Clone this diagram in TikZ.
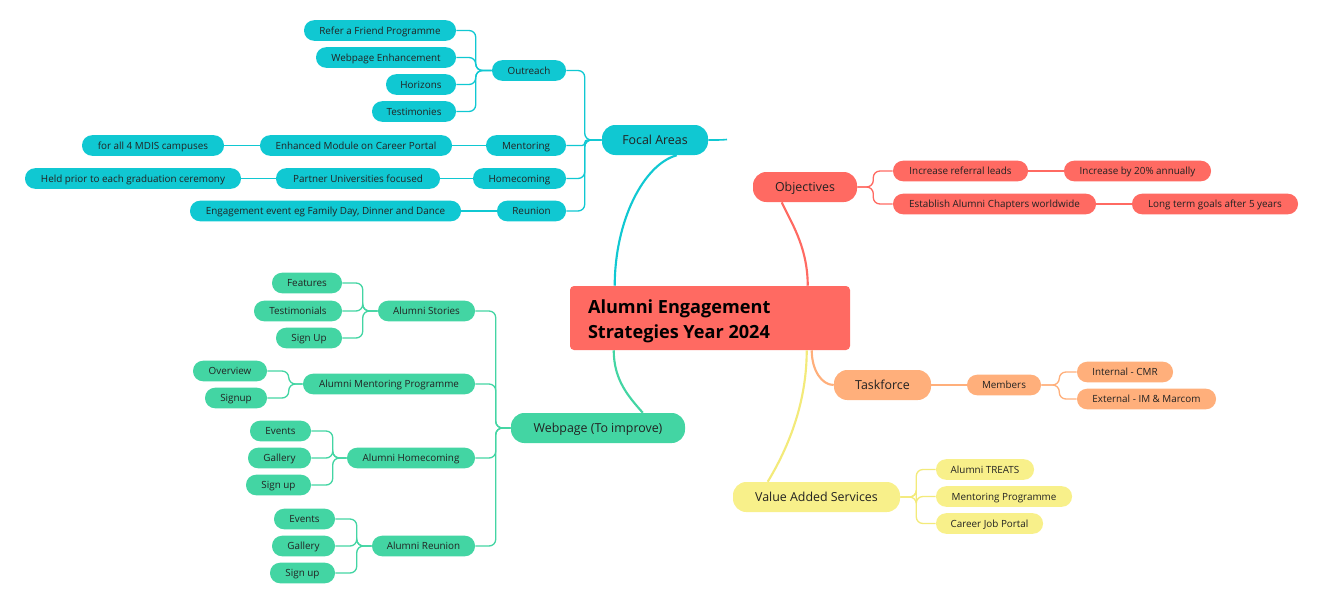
\documentclass[tikz,border=0pt]{standalone}
\usepackage{fontspec}
\setmainfont{Open Sans}
\usetikzlibrary{calc}
\definecolor{inkc}{HTML}{222222}
\definecolor{cyanC}{HTML}{10C8D2}
\definecolor{redC}{HTML}{FF6A62}
\definecolor{oraC}{HTML}{FFAF7B}
\definecolor{yelC}{HTML}{F8F08A}
\definecolor{yelL}{HTML}{F3EA7A}
\definecolor{grnC}{HTML}{43D5A3}
\tikzset{
  topic/.style={fill=#1, text=inkc, rounded corners=10pt, minimum height=22.5pt,
    inner sep=0pt, text height=6.6pt, text depth=0pt,
    font=\fontsize{9.3}{11}\selectfont},
  leaf/.style={fill=#1, text=inkc, rounded corners=7.5pt, minimum height=15.4pt,
    inner sep=0pt, text height=5.3pt, text depth=0pt,
    font=\fontsize{7.4}{8.8}\selectfont},
  wd/.style={minimum width=#1*0.75pt},
  link/.style={draw=#1, line width=1pt, rounded corners=5pt},
  branch/.style={draw=#1, line width=1.6pt},
}
\begin{document}
\begin{tikzpicture}[x=0.75pt,y=-0.75pt]
\useasboundingbox (0,0) rectangle (1336,612);

% central topic
\node[fill=redC, rounded corners=3pt, minimum width=210pt, minimum height=48pt,
  inner sep=0pt] (root) at (710,318) {};
\node[anchor=west, text=black, inner sep=0pt, align=left,
  font=\fontsize{13.6}{18.8}\selectfont\bfseries] (roottext) at ($(root.west)+(18,3)$)
  {Alumni Engagement\\Strategies Year 2024};

% ---- Focal Areas ----
\node[topic=cyanC, wd=106] (focal) at (655,140) {Focal Areas};
\node[leaf=cyanC, wd=74] (outreach) at (529,70.5) {Outreach};
\node[leaf=cyanC, wd=80] (mentoring) at (526,145.5) {Mentoring};
\node[leaf=cyanC, wd=93] (homecoming) at (519.5,178.5) {Homecoming};
\node[leaf=cyanC, wd=69] (reunion) at (531.5,211) {Reunion};
\node[leaf=cyanC, wd=152] (refer) at (380,30.5) {Refer a Friend Programme};
\node[leaf=cyanC, wd=140] (webenh) at (386,57.5) {Webpage Enhancement};
\node[leaf=cyanC, wd=70] (horizons) at (421,84.5) {Horizons};
\node[leaf=cyanC, wd=84] (testimonies) at (414,111.5) {Testimonies};
\node[leaf=cyanC, wd=192] (enhanced) at (356,145.5) {Enhanced Module on Career Portal};
\node[leaf=cyanC, wd=142] (mdis) at (153,145.5) {for all 4 MDIS campuses};
\node[leaf=cyanC, wd=164] (partner) at (358,178.5) {Partner Universities focused};
\node[leaf=cyanC, wd=216] (heldprior) at (133,178.5) {Held prior to each graduation ceremony};
\node[leaf=cyanC, wd=271] (engage) at (325.5,211) {Engagement event eg Family Day, Dinner and Dance};
\coordinate (stub) at (727,139.5);

% ---- Objectives ----
\node[topic=redC, wd=104] (objectives) at (805,187) {Objectives};
\node[leaf=redC, wd=135] (leads) at (960.5,171) {Increase referral leads};
\node[leaf=redC, wd=203] (chapters) at (994.5,204) {Establish Alumni Chapters worldwide};
\node[leaf=redC, wd=147] (pct) at (1137.5,171) {Increase by 20\% annually};
\node[leaf=redC, wd=166] (longterm) at (1215,204) {Long term goals after 5 years};

% ---- Taskforce ----
\node[topic=oraC, wd=97] (taskforce) at (882.5,385) {Taskforce};
\node[leaf=oraC, wd=74] (members) at (1004,385) {Members};
\node[leaf=oraC, wd=96] (internal) at (1125,372) {Internal - CMR};
\node[leaf=oraC, wd=139] (external) at (1146.5,399) {External - IM \& Marcom};

% ---- Value Added Services ----
\node[topic=yelC, wd=167] (vas) at (816.5,497) {Value Added Services};
\node[leaf=yelC, wd=98] (treats) at (985,469.5) {Alumni TREATS};
\node[leaf=yelC, wd=136] (mentprog) at (1004,496.5) {Mentoring Programme};
\node[leaf=yelC, wd=107] (jobportal) at (989.5,523.5) {Career Job Portal};

% ---- Webpage ----
\node[topic=grnC, wd=174] (webpage) at (598,428) {Webpage (To improve)};
\node[leaf=grnC, wd=97] (stories) at (426.5,311) {Alumni Stories};
\node[leaf=grnC, wd=172] (amp) at (389,384) {Alumni Mentoring Programme};
\node[leaf=grnC, wd=128] (ahome) at (411,458) {Alumni Homecoming};
\node[leaf=grnC, wd=103] (areunion) at (423.5,546) {Alumni Reunion};
\node[leaf=grnC, wd=70] (features) at (307,283) {Features};
\node[leaf=grnC, wd=88] (testimonials) at (298,311) {Testimonials};
\node[leaf=grnC, wd=66] (signupA) at (309,338) {Sign Up};
\node[leaf=grnC, wd=74] (overview) at (230,371) {Overview};
\node[leaf=grnC, wd=62] (signupB) at (236,398) {Signup};
\node[leaf=grnC, wd=61] (eventsH) at (280.5,431) {Events};
\node[leaf=grnC, wd=63] (galleryH) at (279.5,458) {Gallery};
\node[leaf=grnC, wd=65] (signupH) at (278.5,485) {Sign up};
\node[leaf=grnC, wd=61] (eventsR) at (304.5,519) {Events};
\node[leaf=grnC, wd=63] (galleryR) at (303.5,546) {Gallery};
\node[leaf=grnC, wd=65] (signupR) at (302.5,573) {Sign up};

% ---- main branches from the central topic ----
\draw[branch=cyanC] ($(root.north west)+(45,0)$) .. controls +(0,-65) and +(-33,9) .. ($(focal.south west)+(75,0)$);
\draw[branch=cyanC, line width=1.2pt] (focal.east) to[out=0,in=185] (stub);
\draw[branch=redC] ($(root.north west)+(238,0)$) .. controls +(0,-40) and +(8,18) .. ($(objectives.south west)+(29,0)$);
\draw[branch=oraC] ($(root.south west)+(242,0)$) .. controls +(0,20) and +(-12,0) .. (taskforce.west);
\draw[branch=yelL] ($(root.south west)+(237,0)$) .. controls +(0,60) and +(15,-25) .. ($(vas.north west)+(35,0)$);
\draw[branch=grnC] ($(root.south west)+(44,0)$) .. controls +(0,30) and +(-14,-16) .. ($(webpage.north west)+(132,0)$);

% ---- Focal Areas connectors ----
\draw[link=cyanC] (focal.west) -- ++(-17,0) |- (outreach.east);
\draw[link=cyanC, rounded corners=2pt] (focal.west) -- ++(-17,0) |- (mentoring.east);
\draw[link=cyanC] (focal.west) -- ++(-17,0) |- (homecoming.east);
\draw[link=cyanC] (focal.west) -- ++(-17,0) |- (reunion.east);
\foreach \c in {refer,webenh,horizons,testimonies}
  \draw[link=cyanC] (outreach.west) -- ++(-16,0) |- (\c.east);
\draw[link=cyanC] (mentoring.west) -- (enhanced.east);
\draw[link=cyanC] (enhanced.west) -- (mdis.east);
\draw[link=cyanC] (homecoming.west) -- (partner.east);
\draw[link=cyanC] (partner.west) -- (heldprior.east);
\draw[link=cyanC] (reunion.west) -- (engage.east);

% ---- Objectives connectors ----
\foreach \c in {leads,chapters}
  \draw[link=redC] (objectives.east) -- ++(16,0) |- (\c.west);
\draw[link=redC] (leads.east) -- (pct.west);
\draw[link=redC] (chapters.east) -- (longterm.west);

% ---- Taskforce connectors ----
\draw[link=oraC] (taskforce.east) -- (members.west);
\foreach \c in {internal,external}
  \draw[link=oraC] (members.east) -- ++(18,0) |- (\c.west);

% ---- Value Added Services connectors ----
\foreach \c in {treats,mentprog,jobportal}
  \draw[link=yelL] (vas.east) -- ++(16,0) |- (\c.west);

% ---- Webpage connectors ----
\foreach \c in {stories,amp,ahome,areunion}
  \draw[link=grnC] (webpage.west) -- ++(-15,0) |- (\c.east);
\foreach \c in {features,testimonials,signupA}
  \draw[link=grnC] (stories.west) -- ++(-15,0) |- (\c.east);
\foreach \c in {overview,signupB}
  \draw[link=grnC] (amp.west) -- ++(-14,0) |- (\c.east);
\foreach \c in {eventsH,galleryH,signupH}
  \draw[link=grnC] (ahome.west) -- ++(-14,0) |- (\c.east);
\foreach \c in {eventsR,galleryR,signupR}
  \draw[link=grnC] (areunion.west) -- ++(-15,0) |- (\c.east);

\end{tikzpicture}
\end{document}
